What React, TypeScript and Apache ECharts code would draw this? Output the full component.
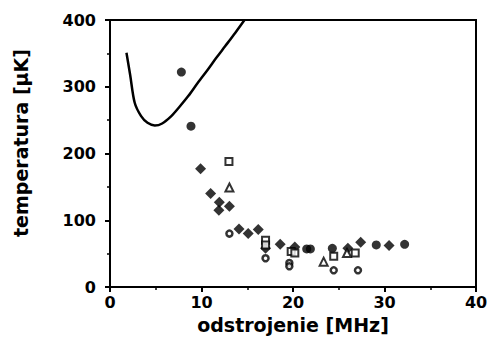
import React, { useEffect, useRef } from "react";
import * as echarts from "echarts";

const xAxisTitle = "odstrojenie [MHz]";
const yAxisTitle = "temperatura [μK]";

// theoretical curve
const curve: [number, number][] = [
  [1.8, 351], [2.2, 318], [2.7, 276], [3.4, 256], [4.1, 246], [4.9, 242],
  [5.7, 245], [6.7, 256], [7.6, 270], [8.55, 286], [9.6, 306], [10.7, 326],
  [11.6, 343], [12.6, 361], [13.7, 381], [14.7, 400],
];

const filledCircles: [number, number][] = [
  [7.8, 322], [8.85, 241], [21.5, 57], [21.9, 57], [24.3, 58], [29.1, 63], [32.2, 64],
];

const filledDiamonds: [number, number][] = [
  [9.9, 177], [11.0, 140], [11.95, 127], [11.9, 115], [13.05, 121], [14.1, 87],
  [15.1, 80], [16.2, 86], [17.0, 58], [18.6, 64], [20.2, 60], [26.0, 58],
  [27.4, 67], [30.5, 62],
];

const openSquares: [number, number][] = [
  [13.0, 188], [17.0, 70], [17.0, 63], [19.8, 53], [20.2, 51], [24.45, 46], [26.8, 51],
];

const openTriangles: [number, number][] = [
  [13.05, 149], [23.35, 38], [25.9, 51],
];

const openDots: [number, number][] = [
  [13.05, 80], [17.0, 43], [19.6, 36], [19.6, 31], [24.45, 25], [27.1, 25],
];

const FONT = "DejaVu Sans";

export default function App() {
  const ref = useRef<HTMLDivElement>(null);
  useEffect(() => {
    if (!ref.current) return;
    const chart = echarts.init(ref.current, undefined, { renderer: "svg" });
    const scatterBase = {
      type: "scatter" as const,
      z: 3,
    };
    chart.setOption({
      animation: false,
      backgroundColor: "#ffffff",
      grid: {
        left: 110,
        right: 15,
        top: 20,
        bottom: 63,
        show: true,
        borderColor: "#000",
        borderWidth: 2,
        backgroundColor: "transparent",
      },
      graphic: [
        {
          type: "text",
          x: 21,
          y: 143,
          rotation: Math.PI / 2,
          style: {
            text: yAxisTitle,
            fill: "#000",
            font: `bold 19px "${FONT}"`,
            align: "center",
            verticalAlign: "middle",
          },
        },
      ],
      xAxis: {
        type: "value",
        min: 0,
        max: 40,
        interval: 10,
        name: xAxisTitle,
        nameLocation: "middle",
        nameGap: 28,
        nameTextStyle: { fontFamily: FONT, fontWeight: "bold", fontSize: 19, color: "#000" },
        axisLine: { lineStyle: { color: "#000", width: 2 } },
        axisTick: { show: true, inside: false, length: 5, lineStyle: { color: "#000", width: 2 } },
        minorTick: { show: true, splitNumber: 2, length: 3, lineStyle: { color: "#000", width: 1.5 } },
        axisLabel: { fontFamily: FONT, fontWeight: "bold", fontSize: 16, color: "#000", margin: 7 },
        splitLine: { show: false },
      },
      yAxis: {
        type: "value",
        min: 0,
        max: 400,
        interval: 100,
        axisLine: { lineStyle: { color: "#000", width: 2 } },
        axisTick: { show: true, inside: false, length: 5, lineStyle: { color: "#000", width: 2 } },
        minorTick: { show: true, splitNumber: 2, length: 3, lineStyle: { color: "#000", width: 1.5 } },
        axisLabel: { fontFamily: FONT, fontWeight: "bold", fontSize: 16, color: "#000", margin: 14 },
        splitLine: { show: false },
      },
      series: [
        {
          type: "line",
          data: curve,
          smooth: 0.3,
          showSymbol: false,
          lineStyle: { color: "#000", width: 2.5 },
          z: 2,
        },
        {
          ...scatterBase,
          data: filledCircles,
          symbol: "circle",
          symbolSize: 9,
          itemStyle: { color: "#000" },
        },
        {
          ...scatterBase,
          data: filledDiamonds,
          symbol: "diamond",
          symbolSize: 11,
          itemStyle: { color: "#000" },
        },
        {
          ...scatterBase,
          data: openSquares,
          symbol: "rect",
          symbolSize: 7,
          itemStyle: { color: "#fff", borderColor: "#000", borderWidth: 2 },
        },
        {
          ...scatterBase,
          data: openTriangles,
          symbol: "triangle",
          symbolSize: 8,
          itemStyle: { color: "#fff", borderColor: "#000", borderWidth: 2 },
        },
        {
          ...scatterBase,
          data: openDots,
          symbol: "circle",
          symbolSize: 6,
          itemStyle: { color: "#fff", borderColor: "#000", borderWidth: 2.5 },
        },
      ],
    });
    return () => chart.dispose();
  }, []);
  return <div ref={ref} style={{ width: 491, height: 350, position: "absolute", left: 0, top: 0 }} />;
}
